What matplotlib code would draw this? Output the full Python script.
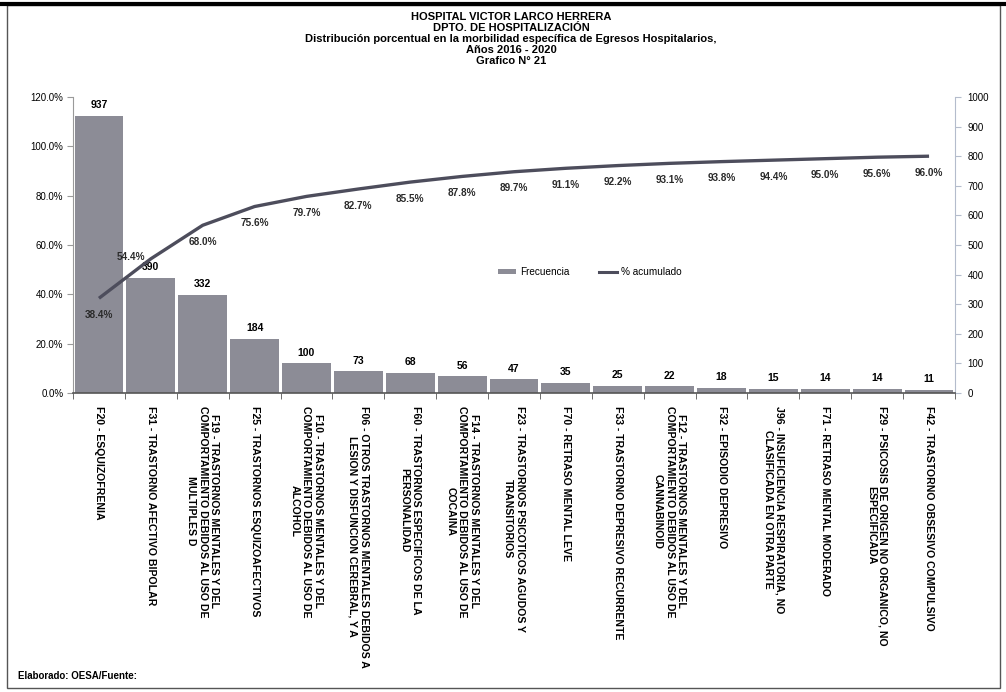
import numpy as np
import matplotlib
matplotlib.use("Agg")
import matplotlib.pyplot as plt
from matplotlib.ticker import FuncFormatter, MultipleLocator
from matplotlib.patches import Patch, Rectangle
from matplotlib.lines import Line2D

plt.rcParams['font.family'] = ['Liberation Sans', 'DejaVu Sans']

categories = [
    "F20 - ESQUIZOFRENIA",
    "F31 - TRASTORNO AFECTIVO BIPOLAR",
    "F19 - TRASTORNOS MENTALES Y DEL\nCOMPORTAMIENTO DEBIDOS AL USO DE\nMULTIPLES D",
    "F25 - TRASTORNOS ESQUIZOAFECTIVOS",
    "F10 - TRASTORNOS MENTALES Y DEL\nCOMPORTAMIENTO DEBIDOS AL USO DE\nALCOHOL",
    "F06 - OTROS TRASTORNOS MENTALES DEBIDOS A\nLESION Y DISFUNCION CEREBRAL, Y A",
    "F60 - TRASTORNOS ESPECIFICOS DE LA\nPERSONALIDAD",
    "F14 - TRASTORNOS MENTALES Y DEL\nCOMPORTAMIENTO DEBIDOS AL USO DE\nCOCAINA",
    "F23 - TRASTORNOS PSICOTICOS AGUDOS Y\nTRANSITORIOS",
    "F70 - RETRASO MENTAL LEVE",
    "F33 - TRASTORNO DEPRESIVO RECURRENTE",
    "F12 - TRASTORNOS MENTALES Y DEL\nCOMPORTAMIENTO DEBIDOS AL USO DE\nCANNABINOID",
    "F32 - EPISODIO DEPRESIVO",
    "J96 - INSUFICIENCIA RESPIRATORIA, NO\nCLASIFICADA EN OTRA PARTE",
    "F71 - RETRASO MENTAL MODERADO",
    "F29 - PSICOSIS DE ORIGEN NO ORGANICO, NO\nESPECIFICADA",
    "F42 - TRASTORNO OBSESIVO COMPULSIVO",
]
frecuencia = [937, 390, 332, 184, 100, 73, 68, 56, 47, 35, 25, 22, 18, 15, 14, 14, 11]
acumulado = [38.4, 54.4, 68.0, 75.6, 79.7, 82.7, 85.5, 87.8, 89.7, 91.1,
             92.2, 93.1, 93.8, 94.4, 95.0, 95.6, 96.0]

title_lines = [
    "HOSPITAL VICTOR LARCO HERRERA",
    "DPTO. DE HOSPITALIZACIÓN",
    "Distribución porcentual en la morbilidad específica de Egresos Hospitalarios,",
    "Años 2016 - 2020",
    "Grafico N° 21",
]

BAR = '#8c8c96'
LINE = '#4d4d5c'

fig = plt.figure(figsize=(10.06, 6.92), dpi=100)
ax = fig.add_axes([73/1006, 1-393/692, 882/1006, 296/692])
ax2 = ax.twinx()

x = np.arange(len(categories))
ax2.bar(x, frecuencia, width=0.94, color=BAR, zorder=2)
ax.plot(x, acumulado, color=LINE, lw=2.4, solid_capstyle='butt')
ax.set_zorder(ax2.get_zorder() + 1)
ax.patch.set_visible(False)

ax.set_xlim(-0.5, len(categories) - 0.5)
ax.set_ylim(0, 120)
ax2.set_ylim(0, 1000)
ax.yaxis.set_major_locator(MultipleLocator(20))
ax.yaxis.set_major_formatter(FuncFormatter(lambda v, p: f"{v:.1f}%"))
ax2.set_yticks(np.arange(0, 1001, 100))

for s in ['top', 'right']:
    ax.spines[s].set_visible(False)
for s in ['top', 'left', 'bottom']:
    ax2.spines[s].set_visible(False)
ax.spines['left'].set_color('#9a9a9a')
ax.spines['bottom'].set_color('#555555')
ax.spines['bottom'].set_linewidth(1.2)
ax2.spines['right'].set_color('#b4bccc')

ax.tick_params(axis='y', labelsize=7, length=4, color='#9a9a9a', pad=3)
ax2.tick_params(axis='y', labelsize=7, length=4, color='#b4bccc', pad=5)

ax.set_xticks(x)
ax.set_xticklabels(categories, rotation=-90, fontsize=7.6, fontweight='bold',
                   linespacing=1.2, multialignment='center')
ax.tick_params(axis='x', which='major', length=0, pad=9)
ax.set_xticks(np.arange(-0.5, len(categories), 1), minor=True)
ax.tick_params(axis='x', which='minor', length=4, color='#555555')

for i, v in enumerate(frecuencia):
    ax2.annotate(str(v), (i, v), xytext=(0, 4), textcoords='offset points',
                 ha='center', va='bottom', fontsize=7.5, fontweight='bold')

for i, c in enumerate(acumulado):
    off = (-14, 1) if i == 1 else (0, -12)
    ax.annotate(f"{c:.1f}%", (i, c), xytext=off, textcoords='offset points',
                ha='center', va='center', fontsize=7.2, fontweight='bold', color='#2a2a2a')

handles = [Patch(facecolor=BAR, edgecolor='none'), Line2D([0], [0], color=LINE, lw=2.2)]
ax.legend(handles, ['Frecuencia', '% acumulado'], loc='center',
          bbox_to_anchor=(0.586, 0.409), ncol=2, frameon=False, fontsize=7.2,
          columnspacing=3.0, handlelength=1.8, handleheight=0.45, handletextpad=0.4)

ys = [17, 28, 39, 50, 61]
for t, yy in zip(title_lines, ys):
    fig.text(0.508, 1 - yy/692, t, ha='center', va='center', fontsize=8, fontweight='bold')

fig.text(18/1006, 1 - 676/692, "Elaborado: OESA/Fuente:", ha='left', va='center',
         fontsize=7, fontweight='bold')

fig.add_artist(Rectangle((7/1006, 1-688/692), 993/1006, 683/692, transform=fig.transFigure,
                         fill=False, edgecolor='#555555', lw=1.0))
fig.add_artist(Line2D([0, 1], [1-4/692, 1-4/692], transform=fig.transFigure, color='black', lw=3))

fig.savefig("out.png", dpi=100, facecolor='white')
